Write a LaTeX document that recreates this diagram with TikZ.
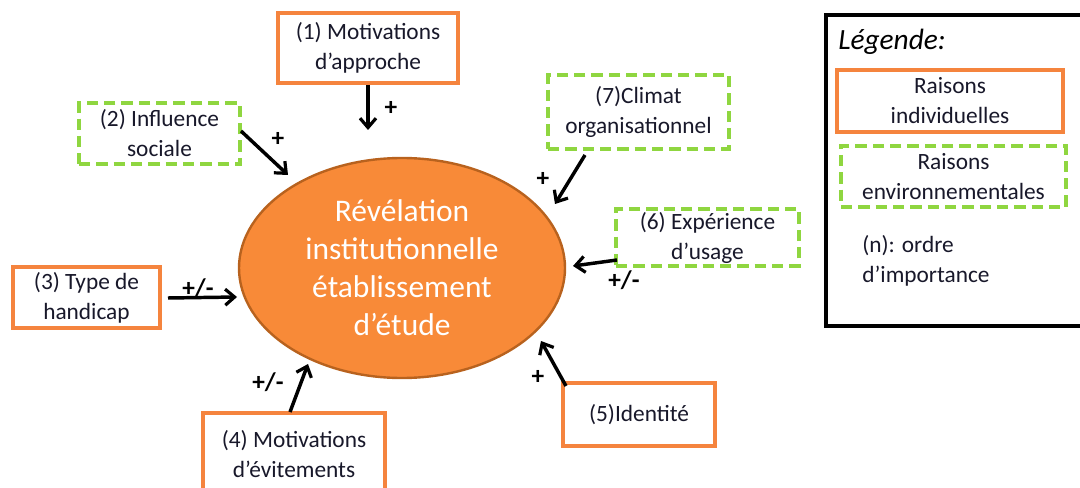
\documentclass[tikz,border=0pt]{standalone}
\usepackage{fontspec}
\setmainfont{Carlito}
\usetikzlibrary{arrows.meta,shapes.geometric}
\definecolor{orangeline}{HTML}{F5843E}
\definecolor{ellfill}{HTML}{F88A38}
\definecolor{ellline}{HTML}{B8621E}
\definecolor{greenline}{HTML}{8FD640}
\definecolor{txt}{HTML}{18182A}
\tikzset{
  indiv/.style={draw=orangeline, line width=2.8pt, fill=white, align=center, inner sep=0pt, text=txt,
    font=\fontsize{17.5}{22.5}\selectfont},
  envir/.style={draw=greenline, line width=2.8pt, dash pattern=on 8.5pt off 4.5pt, fill=white, align=center,
    inner sep=0pt, text=txt, font=\fontsize{17.5}{22.5}\selectfont},
  arr/.style={draw=black, line width=2.6pt, -{Straight Barb[length=7pt,width=12pt,line width=2.4pt]}},
  sign/.style={font=\fontsize{19}{22}\selectfont\bfseries, text=black, inner sep=0pt},
}
\begin{document}
\begin{tikzpicture}[x=0.75pt,y=-0.75pt]
\useasboundingbox (0,0) rectangle (1080,488);

% central ellipse
\node[ellipse, draw=ellline, line width=1.8pt, fill=ellfill, minimum width=326*0.75pt, minimum height=220*0.75pt,
  inner sep=0pt, align=center, text=white, font=\fontsize{23.6}{28.5}\selectfont] (ell) at (402,268)
  {Révélation\\institutionnelle\\établissement\\d’étude};

% factor boxes
\node[indiv, minimum width=180*0.75pt, minimum height=70*0.75pt] (b1) at (368,48) {(1) Motivations\\d’approche};
\node[envir, minimum width=161*0.75pt, minimum height=61*0.75pt] (b2) at (159.5,133.5) {(2) Influence\\sociale};
\node[indiv, minimum width=147*0.75pt, minimum height=61*0.75pt] (b3) at (86.5,297.5) {(3) Type de\\handicap};
\node[indiv, draw=none, minimum width=178*0.75pt, minimum height=78*0.75pt, anchor=north] (b4) at (294,413) {(4) Motivations\\d’évitements};
\draw[draw=orangeline, line width=2.8pt] (b4.south west) -- (b4.north west) -- (b4.north east) -- (b4.south east);
\node[indiv, minimum width=152*0.75pt, minimum height=63*0.75pt] (b5) at (639,414.5) {(5)Identité};
\node[envir, minimum width=183*0.75pt, minimum height=57*0.75pt] (b6) at (707.5,237.5) {(6) Expérience\\d’usage};
\node[envir, minimum width=181*0.75pt, minimum height=74*0.75pt] (b7) at (638.5,112) {(7)Climat\\organisationnel};

% arrow end points
\coordinate (t1) at (368,130);
\coordinate (s2) at (241,131);
\coordinate (t2) at (288,175);
\coordinate (s3) at (168,298);
\coordinate (t3) at (237,297);
\coordinate (s4) at (290,412);
\coordinate (t4) at (308,364);
\coordinate (s5) at (566,386);
\coordinate (t5) at (541,341);
\coordinate (s6) at (617,260);
\coordinate (t6) at (573,266);
\coordinate (s7) at (585,155);
\coordinate (t7) at (555,204);

\draw[arr] (b1.south) -- (t1);
\draw[arr] (s2) -- (t2);
\draw[arr] (s3) -- (t3);
\draw[arr] (s4) -- (t4);
\draw[arr] (s5) -- (t5);
\draw[arr] (s6) -- (t6);
\draw[arr] (s7) -- (t7);

% signs
\node[sign] (l1) at (391,108) {+};
\node[sign] (l2) at (278,139) {+};
\node[sign] (l3) at (198,288) {+/-};
\node[sign] (l4) at (268,382) {+/-};
\node[sign] (l5) at (538,377) {+};
\node[sign] (l6) at (624,280) {+/-};
\node[sign] (l7) at (543,179) {+};

% legend
\node[draw=none, minimum width=262*0.75pt, minimum height=310*0.75pt, anchor=north west, inner sep=0pt] (leg) at (826,15) {};
\draw[black, line width=3pt] (leg.north east) -- (leg.north west) -- (leg.south west) -- (leg.south east);
\node[anchor=west, inner sep=0pt, text=black, font=\fontsize{22}{26}\selectfont\itshape] (legt) at (838,42) {Légende:};
\node[indiv, minimum width=226*0.75pt, minimum height=62*0.75pt] (li) at (950,101) {Raisons\\individuelles};
\node[envir, minimum width=225*0.75pt, minimum height=61*0.75pt] (le) at (953.5,176.5) {Raisons\\environnementales};
\node[anchor=west, align=left, inner sep=0pt, text=txt, font=\fontsize{17.5}{22.5}\selectfont] (lo) at (862,260.5) {(n): ordre\\d’importance};
\end{tikzpicture}
\end{document}
